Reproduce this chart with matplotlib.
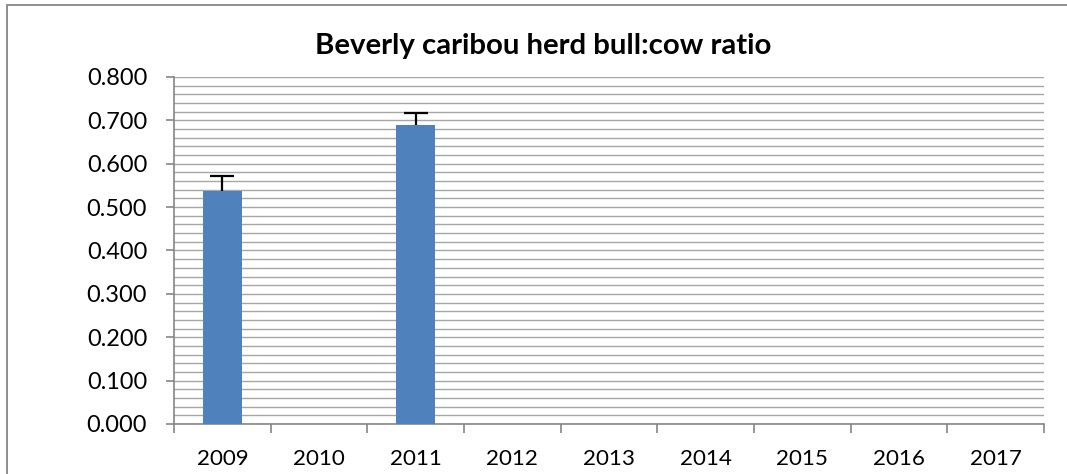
import numpy as np
import matplotlib
matplotlib.use("Agg")
import matplotlib.pyplot as plt
from matplotlib.patches import Rectangle
from matplotlib.ticker import MultipleLocator, FormatStrFormatter

# ---- data ----
years = ["2009", "2010", "2011", "2012", "2013", "2014", "2015", "2016", "2017"]
ratio = [0.537, np.nan, 0.690, np.nan, np.nan, np.nan, np.nan, np.nan, np.nan]
err_up = [0.035, np.nan, 0.026, np.nan, np.nan, np.nan, np.nan, np.nan, np.nan]
title = "Beverly caribou herd bull:cow ratio"

W, H, DPI = 1067, 474, 100
plt.rcParams['font.family'] = ['Lato', 'DejaVu Sans']

fig = plt.figure(figsize=(W / DPI, H / DPI), dpi=DPI)
renderer = fig.canvas.get_renderer()

def fit_size(text, target_px, weight='normal', base=20):
    t = fig.text(0, 0, text, fontsize=base, fontweight=weight)
    w = t.get_window_extent(renderer=renderer).width
    t.remove()
    return base * target_px / w

tick_fs = fit_size("0.800", 60)
xlab_fs = fit_size("2009", 52)
title_fs = fit_size(title, 457, weight='bold')

ax = fig.add_axes([174 / W, 1 - 424 / H, (1044 - 174) / W, (424 - 77) / H])

x = np.arange(len(years))
vals = np.array(ratio, dtype=float)
ups = np.array(err_up, dtype=float)
ax.bar(x, vals, width=0.40, color='#4F81BD', zorder=3)

mask = ~np.isnan(vals)
eb = ax.errorbar(x[mask], vals[mask], yerr=[np.zeros(mask.sum()), ups[mask]],
                 fmt='none', ecolor='black', elinewidth=1.6, capsize=8.6,
                 capthick=1.6, zorder=4)
for cl in eb.lines[1]:
    if np.allclose(cl.get_ydata(), vals[mask]):
        cl.set_visible(False)

ax.set_xlim(-0.5, len(years) - 0.5)
ax.set_ylim(0, 0.8)

ax.yaxis.set_major_locator(MultipleLocator(0.1))
ax.yaxis.set_minor_locator(MultipleLocator(0.02))
ax.yaxis.set_major_formatter(FormatStrFormatter('%.3f'))
ax.grid(True, which='both', axis='y', color='#a6a6a6', linewidth=1.0, zorder=0)
ax.set_axisbelow(True)

ax.set_xticks(np.arange(-0.5, len(years)), labels=[''] * (len(years) + 1))
ax.set_xticks(x, labels=years, minor=True)

for s in ['top', 'right']:
    ax.spines[s].set_visible(False)
for s in ['left', 'bottom']:
    ax.spines[s].set_color('#868686')
    ax.spines[s].set_linewidth(1.2)

ax.tick_params(axis='y', which='major', direction='out', length=5.8, width=1.2,
               color='#868686', pad=13.5, labelsize=tick_fs, labelcolor='black')
ax.tick_params(axis='y', which='minor', length=0)
ax.tick_params(axis='x', which='major', direction='out', length=6.2, width=1.2,
               color='#868686')
ax.tick_params(axis='x', which='minor', length=0, pad=18, labelsize=xlab_fs,
               labelcolor='black')

fig.text(543.5 / W, 1 - 54 / H, title, fontsize=title_fs, fontweight='bold',
         ha='center', va='baseline')

# chart area border (cropped at right and bottom)
fig.patches.append(Rectangle((7 / W, -0.2), 2.0, 1 - 5 / H + 0.2,
                             transform=fig.transFigure, fill=False,
                             edgecolor='#868686', linewidth=1.3))

fig.savefig("out.png", dpi=DPI)
